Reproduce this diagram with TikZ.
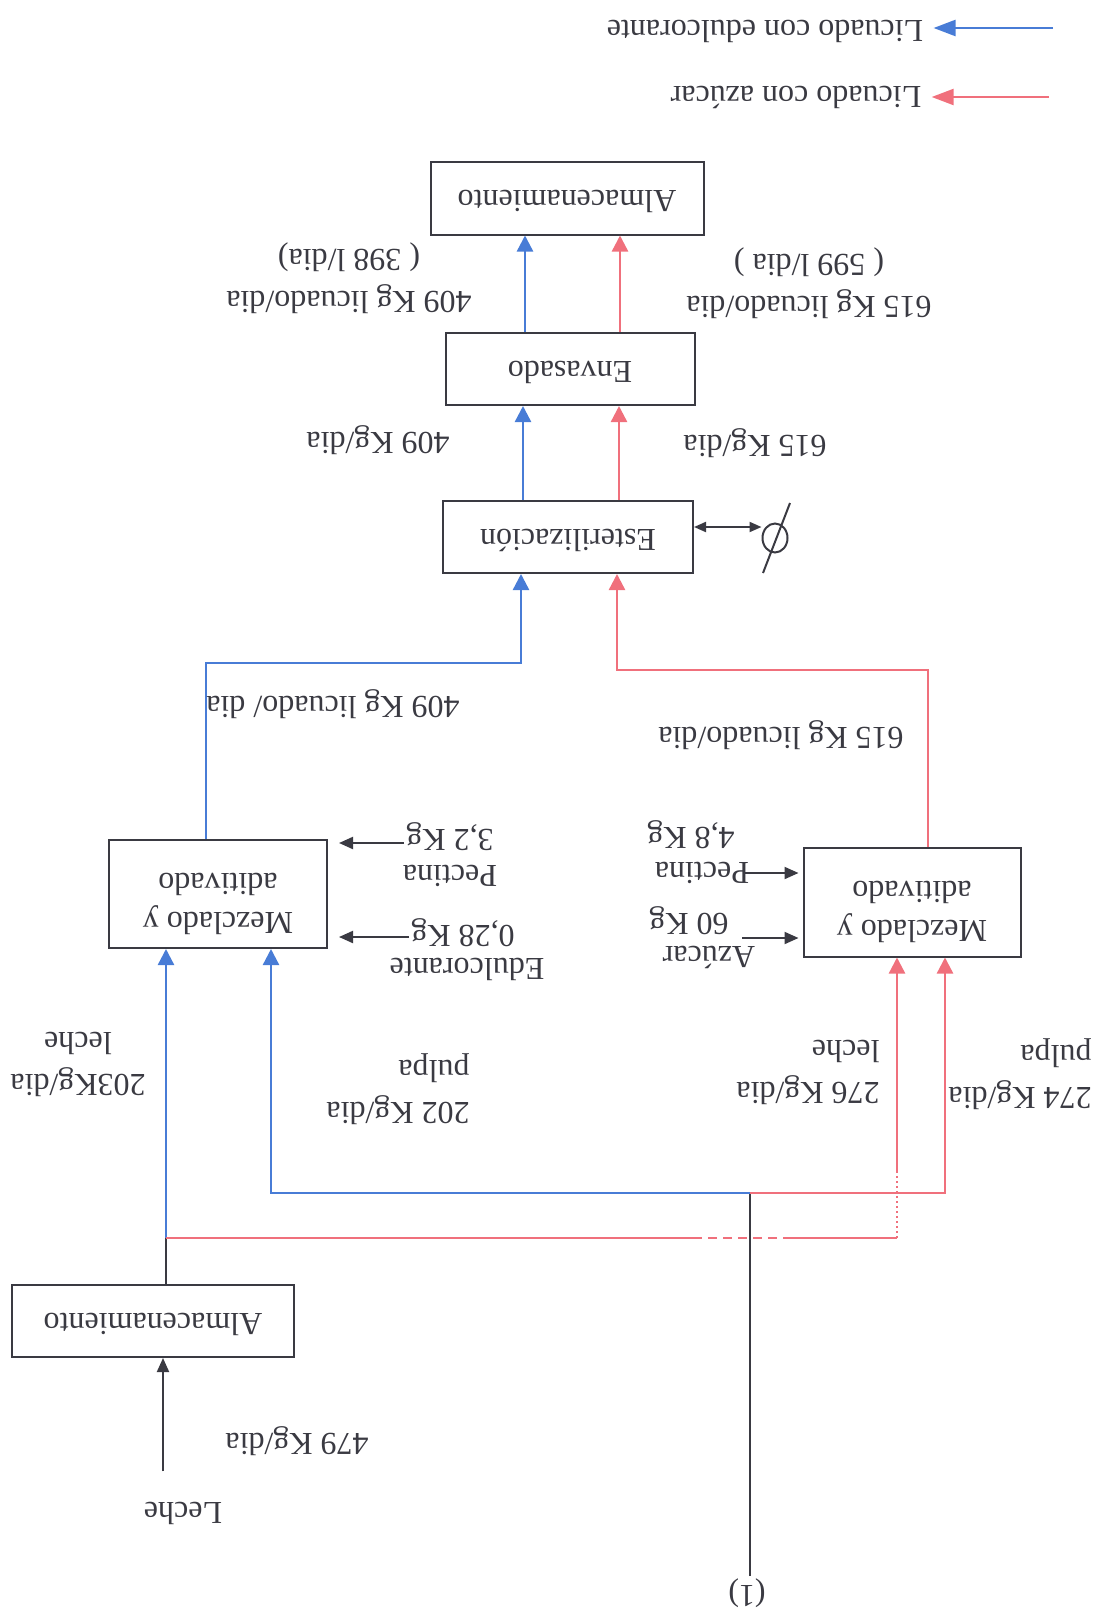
\documentclass[tikz,border=0pt]{standalone}
\usepackage{fontspec}
\setmainfont{Liberation Serif}
\usetikzlibrary{arrows.meta,shapes.geometric}
\definecolor{flowblue}{RGB}{72,124,214}
\definecolor{flowred}{RGB}{240,112,124}
\definecolor{ink}{RGB}{58,58,66}
\tikzset{
  lbl/.style={text=ink, inner sep=1pt, font=\fontsize{16pt}{21pt}\selectfont},
  box/.style={lbl, draw=ink, line width=1pt, inner sep=3pt, text depth=4pt},
  mixbox/.style={box, align=center, font=\fontsize{16pt}{19.5pt}\selectfont, text depth=10pt},
  bflow/.style={draw=flowblue, line width=1.2pt, -{Triangle[length=8pt,width=8pt]}},
  rflow/.style={draw=flowred, line width=1.2pt, -{Triangle[length=8pt,width=8pt]}},
  bline/.style={draw=flowblue, line width=1.2pt},
  rline/.style={draw=flowred, line width=1.2pt},
  kline/.style={draw=ink, line width=1pt},
  kflow/.style={draw=ink, line width=1pt, -{Triangle[length=7pt,width=6pt]}},
  inarrow/.style={draw=ink, line width=1pt, -{Triangle[length=7pt,width=6pt]}},
  dualarrow/.style={draw=ink, line width=1pt, {Triangle[length=6pt,width=5pt]}-{Triangle[length=6pt,width=5pt]}},
  legblue/.style={draw=flowblue, line width=1.2pt, -{Triangle[length=11pt,width=8pt]}},
  legred/.style={draw=flowred, line width=1.2pt, -{Triangle[length=11pt,width=8pt]}}
}
\begin{document}
\begin{tikzpicture}
% the whole flow sheet is laid out turned half a revolution
\begin{scope}[rotate=180, transform shape, x=-0.5pt, y=0.5pt]
\useasboundingbox (0,0) rectangle (1105,1616);

% legend
\node[lbl] (legBt) at (765,31) {Licuado con edulcorante};
\node[lbl] (legRt) at (796,97) {Licuado con azúcar};
\coordinate (legB) at (1053,28);
\coordinate (legR) at (1049,97);
\draw[legblue, shorten >=4pt] (legB) -- (legBt.west |- legB);
\draw[legred, shorten >=4pt] (legR) -- (legRt.west |- legR);

% process boxes
\node[box, minimum width=136.5pt, minimum height=36.5pt] (almF) at (567,198) {Almacenamiento};
\node[box, minimum width=124.5pt, minimum height=36pt] (env) at (570,369) {Envasado};
\node[box, minimum width=125pt, minimum height=36pt] (est) at (568,537) {Esterilización};
\node[mixbox, minimum width=109pt, minimum height=54pt] (mixB) at (218,894) {Mezclado y\\aditivado};
\node[mixbox, minimum width=108.5pt, minimum height=54.5pt] (mixR) at (912,902) {Mezclado y\\aditivado};
\node[box, minimum width=141pt, minimum height=36pt] (almL) at (153,1321) {Almacenamiento};

% packing and storage
\draw[bflow] (env.south -| 525,0) -- (almF.north -| 525,0);
\draw[rflow] (env.south -| 620,0) -- (almF.north -| 620,0);
\node[lbl, align=center] (lbB4) at (349,278) {409 Kg licuado/dia\\( 398 l/dia)};
\node[lbl, align=center] (lbR4) at (809,283) {615 Kg licuado/dia\\( 599 l/dia )};

% sterilisation to packing
\draw[bflow] (est.south -| 523,0) -- (env.north -| 523,0);
\draw[rflow] (est.south -| 619,0) -- (env.north -| 619,0);
\node[lbl] (lbB3) at (378,440) {409 Kg/dia};
\node[lbl] (lbR3) at (755,443) {615 Kg/dia};

% valve on the sterilisation unit
\node[draw=ink, ellipse, line width=1pt, inner sep=0pt, minimum width=12.5pt, minimum height=14.5pt] (valve) at (775,538) {};
\draw[kline] (763,573) -- (790,503);
\draw[dualarrow] (est.west |- 0,527) -- (valve.east |- 0,527);

% mixers to sterilisation
\draw[bflow] (mixB.south -| 206,0) -- (206,663) -- (521,663) -- (est.north -| 521,0);
\draw[rflow] (mixR.south -| 928,0) -- (928,670) -- (617,670) -- (est.north -| 617,0);
\node[lbl] (lbB2) at (333,704) {409 Kg licuado/ dia};
\node[lbl] (lbR2) at (781,735) {615 Kg licuado/dia};

% additives, sweetener line
\node[lbl] (pecBt) at (450,876) {Pectina};
\node[lbl] (pecBq) at (450,837) {3,2 Kg};
\node[lbl] (eduBt) at (467,969) {Edulcorante};
\node[lbl] (eduBq) at (463,933) {0,28 Kg};
\draw[inarrow, shorten >=5.5pt] (pecBq.east |- 0,843) -- (mixB.west |- 0,843);
\draw[inarrow, shorten >=5.5pt] (eduBq.east |- 0,937) -- (mixB.west |- 0,937);

% additives, sugar line
\node[lbl] (azRt) at (709,957) {Azúcar};
\node[lbl] (azRq) at (689,921) {60 Kg};
\node[lbl] (pecRt) at (702,873) {Pectina};
\node[lbl] (pecRq) at (691,835) {4,8 Kg};
\coordinate (azIn) at (742,938);
\coordinate (pecIn) at (744,873);
\draw[inarrow, shorten >=2pt] (azIn) -- (mixR.east |- azIn);
\draw[inarrow, shorten >=2pt] (pecIn) -- (mixR.east |- pecIn);

% pulp feed
\node[lbl] (one) at (747,1593) {(1)};
\coordinate (jP) at (750,1193);
\draw[kline] (one.south -| jP) -- (jP);
\draw[bflow] (jP) -- (271,1193) -- (mixB.north -| 271,0);
\draw[rflow] (jP) -- (945,1193) -- (mixR.north -| 945,0);

% milk feed
\node[lbl] (leche) at (183,1513) {Leche};
\node[lbl] (lbL0) at (297,1441) {479 Kg/dia};
\draw[kflow, shorten <=14pt] (leche.south -| 163,0) -- (almL.north -| 163,0);
\coordinate (jL) at (166,1238);
\draw[kline] (almL.south -| jL) -- (jL);
\draw[bflow] (jL) -- (mixB.north -| jL);
\draw[rline] (jL) -- (693,1238);
\draw[rline, dash pattern=on 4.5pt off 3pt] (693,1238) -- (790,1238);
\draw[rline] (790,1238) -- (897,1238);
\draw[draw=flowred, line width=0.8pt, dash pattern=on 1pt off 1.5pt] (897,1238) -- (897,1172);
\draw[rflow] (897,1172) -- (mixR.north -| 897,0);

% stream labels
\node[lbl, align=center] (lbLB) at (78,1064) {203Kg/dia\\leche};
\node[lbl, align=left] (lbPB) at (398,1089) {202 Kg/dia\\pulpa};
\node[lbl, align=left] (lbLR) at (808,1072) {276 Kg/dia\\leche};
\node[lbl, align=left] (lbPR) at (1020,1074) {274 Kg/dia\\pulpa};
\end{scope}
\end{tikzpicture}
\end{document}
